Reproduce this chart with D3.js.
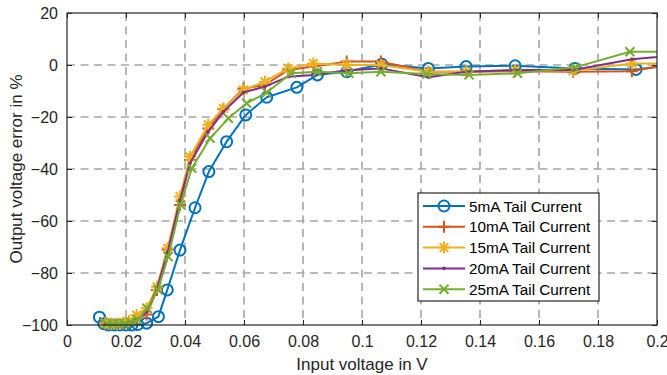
<!DOCTYPE html>
<html>
<head>
<meta charset="utf-8">
<script src="https://cdn.jsdelivr.net/npm/d3@7"></script>
<style>
  body { margin: 0; background: #fff; }
  svg { font-family: "Liberation Sans", Arial, sans-serif; }
</style>
</head>
<body>
<svg id="chart"></svg>
<script>
// data
var seriesNames = ["5mA Tail Current", "10mA Tail Current", "15mA Tail Current", "20mA Tail Current", "25mA Tail Current"];
var seriesColors = ["#0072BD", "#D95319", "#EDB120", "#7E2F8E", "#77AC30"];
var seriesMarkers = ["circle", "plus", "star", "dot", "cross"];

var x5mA = [0.0110, 0.0125, 0.0140, 0.0160, 0.0180, 0.0200, 0.0220, 0.0240, 0.0270, 0.0310, 0.0340, 0.0383, 0.0434, 0.0481, 0.0541, 0.0606, 0.0677, 0.0779, 0.0849, 0.0948, 0.1067, 0.1225, 0.1353, 0.1519, 0.1722, 0.1929, 0.2100];
var y5mA = [-97, -99.5, -100, -100, -100, -100, -100, -99.8, -99.3, -96.8, -86.5, -71.2, -54.9, -41, -29.5, -19.2, -12.4, -8.6, -3.8, -2.6, 0.3, -1.3, -0.6, -0.3, -1.3, -1.7, 0.5];

var xMid = [0.0130, 0.0150, 0.0170, 0.0190, 0.0210, 0.0236, 0.0270, 0.0305, 0.0341, 0.0383, 0.0417, 0.0479, 0.0530, 0.0598, 0.0671, 0.0750, 0.0835, 0.0948, 0.1064, 0.1225, 0.1353, 0.1519, 0.1716, 0.1915, 0.2100];
var y10mA = [-99, -99.5, -99.6, -99.6, -99, -97.5, -96, -86.5, -71, -53.8, -36.5, -24.4, -17, -9, -7.7, -1.9, -0.6, 1.3, 1.3, -2.6, -2.6, -2.4, -2.6, -2.4, 1.5];
var y15mA = [-99.3, -99.5, -99.5, -99, -98.5, -96.2, -93.6, -85.3, -70.5, -50.6, -35.3, -23, -16.7, -9.6, -6.4, -1.3, 0.6, 0, 0, -2.6, -2.6, -1.9, -2.2, 0.6, 0.6];
var y20mA = [-99.5, -99.7, -99.7, -99.5, -99, -98, -95, -86, -72, -52, -37.8, -25.6, -18, -10.6, -8.3, -4.5, -3.8, -2, -1.3, -4.7, -2.6, -1.9, -1.9, 2.2, 4.2];

var x25mA = [0.0135, 0.0155, 0.0175, 0.0195, 0.0215, 0.0240, 0.0272, 0.0308, 0.0343, 0.0385, 0.0423, 0.0485, 0.0547, 0.0609, 0.0677, 0.0760, 0.0849, 0.0955, 0.1064, 0.1219, 0.1363, 0.1527, 0.1722, 0.1908, 0.2100];
var y25mA = [-99.5, -99.6, -99.6, -99.4, -98.8, -98, -93.6, -86.5, -73.7, -53.8, -39.7, -28.2, -20.5, -14.7, -10.6, -3.2, -2.6, -3.2, -2.6, -3.5, -3.8, -3.2, -0.9, 5.1, 5.1];

var xTicks = [0, 0.02, 0.04, 0.06, 0.08, 0.1, 0.12, 0.14, 0.16, 0.18, 0.2];
var yTicks = [-100, -80, -60, -40, -20, 0, 20];

var xs = [x5mA, xMid, xMid, xMid, x25mA];
var ys = [y5mA, y10mA, y15mA, y20mA, y25mA];

// layout
var width = 667, height = 375;
var plotL = 67, plotR = 657, plotT = 13, plotB = 325;
var textColor = "#262626";

var svg = d3.select("#chart")
  .attr("width", width)
  .attr("height", height);

var x = d3.scaleLinear().domain([0, 0.2]).range([plotL, plotR]);
var y = d3.scaleLinear().domain([-100, 20]).range([plotB, plotT]);

svg.append("defs").append("clipPath")
  .attr("id", "plotClip")
  .append("rect")
  .attr("x", plotL).attr("y", plotT - 8)
  .attr("width", plotR - plotL).attr("height", plotB - plotT + 16);

// grid
var grid = svg.append("g")
  .attr("stroke", "#a6a6a6")
  .attr("stroke-width", 1.6)
  .attr("stroke-dasharray", "8,5.5");

grid.selectAll(".gx")
  .data(xTicks.slice(1, -1))
  .enter().append("line")
  .attr("x1", function(d) { return x(d); })
  .attr("x2", function(d) { return x(d); })
  .attr("y1", plotT).attr("y2", plotB);

grid.selectAll(".gy")
  .data(yTicks.slice(1, -1))
  .enter().append("line")
  .attr("y1", function(d) { return y(d); })
  .attr("y2", function(d) { return y(d); })
  .attr("x1", plotL).attr("x2", plotR);

// axes with inward ticks
var fmt = function(d) { return d3.format("~g")(d); };

var xAxisEle = svg.append("g")
  .attr("transform", "translate(0," + plotB + ")")
  .call(d3.axisBottom(x).tickValues(xTicks).tickFormat(fmt).tickSizeInner(-5).tickSizeOuter(0).tickPadding(11));

var xAxisTop = svg.append("g")
  .attr("transform", "translate(0," + plotT + ")")
  .call(d3.axisTop(x).tickValues(xTicks).tickFormat("").tickSizeInner(-5).tickSizeOuter(0));

var yAxisEle = svg.append("g")
  .attr("transform", "translate(" + plotL + ",0)")
  .call(d3.axisLeft(y).tickValues(yTicks).tickFormat(fmt).tickSizeInner(-5).tickSizeOuter(0).tickPadding(9));

var yAxisRight = svg.append("g")
  .attr("transform", "translate(" + plotR + ",0)")
  .call(d3.axisRight(y).tickValues(yTicks).tickFormat("").tickSizeInner(-5).tickSizeOuter(0));

[xAxisEle, xAxisTop, yAxisEle, yAxisRight].forEach(function(a) {
  a.select(".domain").remove();
  a.selectAll("line").attr("stroke", "#262626").attr("stroke-width", 1);
  a.selectAll("text").attr("fill", textColor).attr("font-size", 16)
    .attr("font-family", "\"Liberation Sans\", Arial, sans-serif");
});

// series
var line = d3.line()
  .x(function(d) { return x(d[0]); })
  .y(function(d) { return y(d[1]); });

function drawMarker(g, type, color, cx, cy) {
  if (type === "circle") {
    g.append("circle").attr("cx", cx).attr("cy", cy).attr("r", 5.5)
      .attr("fill", "none").attr("stroke", color).attr("stroke-width", 2);
  } else if (type === "plus" || type === "star") {
    var s = 6;
    g.append("path")
      .attr("d", "M" + (cx - s) + "," + cy + "H" + (cx + s) + "M" + cx + "," + (cy - s) + "V" + (cy + s))
      .attr("stroke", color).attr("stroke-width", 2);
    if (type === "star") {
      var t = 4.3;
      g.append("path")
        .attr("d", "M" + (cx - t) + "," + (cy - t) + "L" + (cx + t) + "," + (cy + t) +
                   "M" + (cx - t) + "," + (cy + t) + "L" + (cx + t) + "," + (cy - t))
        .attr("stroke", color).attr("stroke-width", 2);
    }
  } else if (type === "cross") {
    var c = 4.5;
    g.append("path")
      .attr("d", "M" + (cx - c) + "," + (cy - c) + "L" + (cx + c) + "," + (cy + c) +
                 "M" + (cx - c) + "," + (cy + c) + "L" + (cx + c) + "," + (cy - c))
      .attr("stroke", color).attr("stroke-width", 2);
  } else if (type === "dot") {
    g.append("circle").attr("cx", cx).attr("cy", cy).attr("r", 1.8).attr("fill", color);
  }
}

var plot = svg.append("g").attr("clip-path", "url(#plotClip)");

seriesNames.forEach(function(name, i) {
  var pts = xs[i].map(function(v, j) { return [v, ys[i][j]]; });
  var g = plot.append("g").attr("class", "series");
  g.append("path")
    .datum(pts)
    .attr("fill", "none")
    .attr("stroke", seriesColors[i])
    .attr("stroke-width", 2)
    .attr("stroke-linejoin", "round")
    .attr("d", line);
  pts.forEach(function(p) {
    if (p[0] <= 0.2) drawMarker(g, seriesMarkers[i], seriesColors[i], x(p[0]), y(p[1]));
  });
});

// box
svg.append("rect")
  .attr("x", plotL).attr("y", plotT)
  .attr("width", plotR - plotL).attr("height", plotB - plotT)
  .attr("fill", "none")
  .attr("stroke", "#262626")
  .attr("stroke-width", 1.2);

// axis labels
svg.append("text")
  .attr("x", (plotL + plotR) / 2)
  .attr("y", 370)
  .attr("text-anchor", "middle")
  .attr("font-size", 17)
  .attr("fill", textColor)
  .text("Input voltage in V");

svg.append("text")
  .attr("transform", "translate(22," + ((plotT + plotB) / 2) + ") rotate(-90)")
  .attr("text-anchor", "middle")
  .attr("font-size", 17)
  .attr("fill", textColor)
  .text("Output voltage error in %");

// legend
var legX = 418, legY = 193, legW = 181, legH = 108, rowH = 20.8;
var legend = svg.append("g");
legend.append("rect")
  .attr("x", legX).attr("y", legY)
  .attr("width", legW).attr("height", legH)
  .attr("fill", "#fff")
  .attr("stroke", "#262626")
  .attr("stroke-width", 1.2);

seriesNames.forEach(function(name, i) {
  var cy = legY + 13 + i * rowH;
  var row = legend.append("g");
  row.append("line")
    .attr("x1", legX + 5).attr("x2", legX + 47)
    .attr("y1", cy).attr("y2", cy)
    .attr("stroke", seriesColors[i]).attr("stroke-width", 2);
  drawMarker(row, seriesMarkers[i], seriesColors[i], legX + 26, cy);
  row.append("text")
    .attr("x", legX + 51).attr("y", cy + 5.5)
    .attr("font-size", 15.3)
    .attr("fill", "#000")
    .text(name);
});
</script>
</body>
</html>
